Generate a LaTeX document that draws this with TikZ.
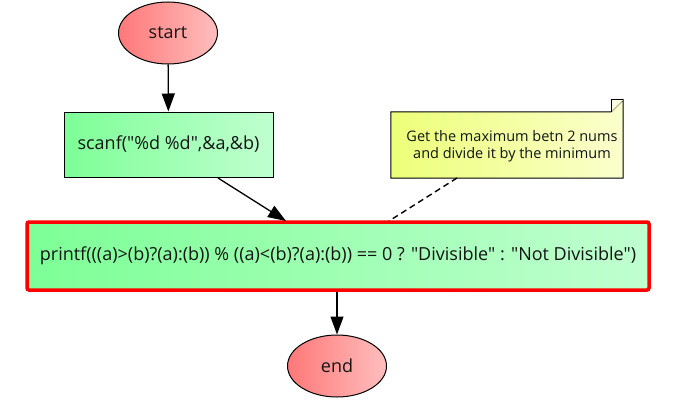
\documentclass[tikz,border=0pt]{standalone}
\usepackage{fontspec}
\setmainfont{Open Sans}[Ligatures=TeXOff]
\usetikzlibrary{arrows.meta,shapes.geometric}
\definecolor{redL}{RGB}{255,120,120}
\definecolor{redR}{RGB}{255,190,190}
\definecolor{greenL}{RGB}{125,255,150}
\definecolor{greenR}{RGB}{192,255,208}
\definecolor{yelL}{RGB}{236,255,120}
\definecolor{yelR}{RGB}{251,255,205}
\definecolor{txt}{RGB}{20,20,20}
\tikzset{
  term/.style={ellipse,draw=black,line width=1pt,shading=axis,left color=redL,right color=redR,shading angle=90,inner sep=0pt,minimum width=99pt,minimum height=62pt,font=\fontsize{18}{21}\selectfont,text=txt},
  actbox/.style={rectangle,draw=black,line width=1pt,left color=greenL,right color=greenR,inner sep=0pt,font=\fontsize{18}{21}\selectfont,text=txt},
  flow/.style={line width=1.3pt,-{Triangle[length=18pt,width=13pt]}},
  notelink/.style={line width=1.4pt,dash pattern=on 6pt off 4pt},
}
\begin{document}
\begin{tikzpicture}[x=1pt,y=-1pt]
\useasboundingbox (0,0) rectangle (675,404);
\node[term] (start) at (168,33) {start};
\node[actbox,minimum width=209pt,minimum height=65pt] (scanf) at (168.5,144.5) {scanf("\%d \%d",\&a,\&b)};
\node[actbox,draw=red,line width=3.5pt,rounded corners=2pt,minimum width=622pt,minimum height=68pt] (printf) at (338,256) {printf(((a)>(b)?(a):(b)) \% ((a)<(b)?(a):(b)) == 0 ? "Divisible" : "Not Divisible")};
\node[term] (end) at (337,366) {end};
% note
\node[inner sep=0pt,minimum width=232pt,minimum height=66pt] (note) at (507,145) {};
\shade[left color=yelL,right color=yelR,draw=black,line width=1pt]
  (note.north west) -- ([xshift=-12pt]note.north east) -- ([yshift=12pt]note.north east) -- (note.south east) -- (note.south west) -- cycle;
\draw[line width=1pt,fill=yelR!60!white] ([xshift=-12pt]note.north east) -- ([xshift=-12pt,yshift=12pt]note.north east) -- ([yshift=12pt]note.north east);
\node[align=center,font=\fontsize{14.5}{17}\selectfont,text=txt] (notetext) at (512,146) {Get the maximum betn 2 nums\\and divide it by the minimum};
\coordinate (nb) at (457,178);
\coordinate (pt) at (389,221);
\draw[notelink] (nb) -- (pt);
\draw[flow] (start) -- (scanf);
\draw[flow] (218,178) -- (286,221);
\draw[flow] (printf.south -| end) -- (end);
\end{tikzpicture}
\end{document}
